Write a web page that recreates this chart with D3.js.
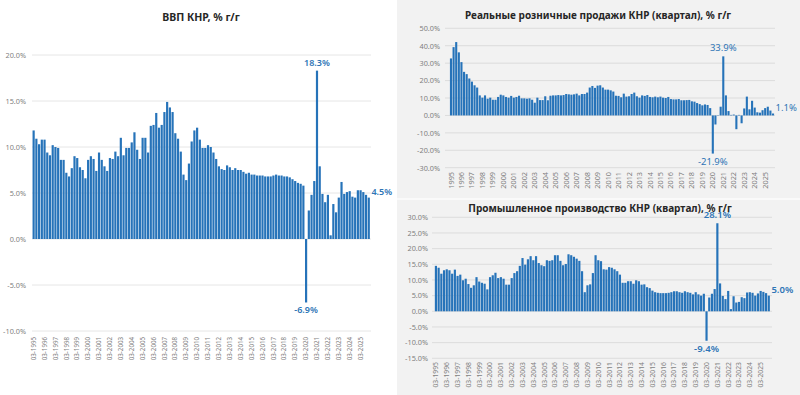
<!DOCTYPE html>
<html>
<head>
<meta charset="utf-8">
<script src="https://cdn.jsdelivr.net/npm/d3@7"></script>
<style>
  body { margin: 0; background: #fff; }
  svg { display: block; font-family: "Noto Sans", sans-serif; }
</style>
</head>
<body>
<script>
// Годы и кварталы
const years = [1995, 1996, 1997, 1998, 1999, 2000, 2001, 2002, 2003, 2004, 2005, 2006, 2007, 2008, 2009, 2010,
               2011, 2012, 2013, 2014, 2015, 2016, 2017, 2018, 2019, 2020, 2021, 2022, 2023, 2024, 2025];
const months = ["03", "06", "09", "12"];
const quarters = years.flatMap(y => months.map(m => `${m}-${y}`));

// Подписи осей
const gdpTickLabels = years.map(y => `03-${y}`);
const retailTickLabels = years.map(y => `${y}`);
const ipTickLabels = years.map(y => `03-${y}`);
const gdpYTicks = [-10, -5, 0, 5, 10, 15, 20];
const retailYTicks = [-30, -20, -10, 0, 10, 20, 30, 40, 50];
const ipYTicks = [-15, -10, -5, 0, 5, 10, 15, 20, 25, 30];

// ВВП КНР, % г/г
const gdpValues = [
  11.8, 10.9, 10.3, 10.8,  10.8, 9.4, 9.1, 10.2,  10.0, 9.9, 8.6, 8.6,  7.2, 6.8, 7.7, 9.0,
  8.8, 7.8, 7.5, 6.6,  8.6, 9.0, 8.7, 7.4,  9.4, 8.6, 7.9, 7.4,  8.8, 8.7, 9.5, 9.0,
  11.0, 9.1, 9.9, 9.9,  10.5, 11.6, 9.7, 8.7,  11.0, 11.0, 9.4, 12.3,  12.4, 13.7, 12.1, 12.4,
  13.8, 14.9, 14.3, 13.8,  11.5, 10.9, 9.5, 7.0,  6.4, 8.2, 10.6, 11.8,  12.1, 10.8, 9.9, 9.9,
  10.2, 10.0, 9.4, 8.7,  7.9, 7.6, 7.5, 8.0,  7.8, 7.5, 7.7, 7.5,  7.5, 7.3, 7.1, 7.2,
  7.0, 7.0, 6.9, 6.9,  6.9, 6.8, 6.8, 6.8,  6.9, 7.0, 6.9, 6.9,  6.8, 6.8, 6.7, 6.5,
  6.3, 6.1, 6.0, 5.8,  -6.9, 3.1, 4.8, 6.3,  18.3, 7.9, 4.9, 4.0,  4.8, 0.4, 3.8, 2.9,
  4.5, 6.2, 4.9, 5.1,  5.2, 4.6, 4.5, 5.3,  5.3, 5.1, 4.8, 4.5
];

// Реальные розничные продажи КНР (квартал), % г/г
const retailValues = [
  32.7, 39.2, 42.1, 36.2,  30.6, 25.0, 23.7, 21.2,  19.4, 17.3, 16.0, 11.5,  10.2, 11.5, 9.6, 10.2,
  9.0, 9.0, 10.6, 11.9,  11.5, 10.6, 10.2, 11.2,  10.2, 10.6, 11.3, 9.8,  9.8, 9.6, 9.8, 9.0,
  7.3, 10.2, 8.8, 8.8,  11.0, 8.7, 11.3, 11.5,  11.5, 11.7, 11.5, 11.7,  12.3, 12.1, 11.9, 12.1,
  12.5, 11.5, 12.3, 12.3,  13.1, 16.0, 16.9, 15.8,  17.1, 17.3, 16.0, 14.8,  14.8, 14.4, 13.7, 11.3,
  11.2, 10.4, 12.5, 10.8,  11.0, 12.3, 13.1, 11.0,  10.2, 11.5, 11.2, 11.7,  10.6, 10.4, 10.8, 10.4,
  10.8, 10.2, 10.0, 10.6,  9.4, 9.2, 9.2, 9.4,  8.7, 8.7, 8.8, 8.9,  8.1, 7.9, 7.1, 6.5,
  5.8, 6.3, 6.0, 4.2,  -21.9, -5.2, 0.2, 5.0,  33.9, 11.5, 2.5, 0.3,  0.5, -7.9, 0.3, -4.5,
  4.0, 10.8, 3.5, 8.4,  4.5, 1.8, 1.6, 3.0,  4.2, 5.0, 2.8, 1.1
];

// Промышленное производство КНР (квартал), % г/г
const ipValues = [
  14.5, 13.9, 12.0, 13.1,  13.4, 13.1, 12.0, 13.3,  11.3, 11.7, 9.9, 10.4,  8.7, 7.5, 8.3, 10.9,
  9.5, 9.1, 8.8, 7.0,  10.9, 11.5, 12.3, 10.6,  10.9, 10.4, 8.5, 8.5,  10.6, 12.2, 12.8, 14.5,
  17.0, 14.9, 16.6, 17.6,  16.3, 17.6, 15.4, 14.7,  14.4, 16.3, 16.1, 16.3,  17.9, 17.9, 16.1, 14.7,
  15.1, 18.2, 17.9, 17.4,  16.8, 16.1, 12.8, 6.1,  8.3, 8.6, 12.2, 17.9,  16.3, 16.0, 13.4, 13.3,
  14.1, 13.9, 13.4, 12.8,  11.7, 9.1, 9.1, 9.6,  9.6, 8.8, 9.9, 9.6,  8.5, 8.6, 7.7, 7.4,
  6.6, 6.1, 5.9, 5.8,  5.8, 5.8, 5.9, 6.1,  6.4, 6.4, 6.1, 5.9,  6.4, 6.1, 5.9, 5.4,
  6.1, 5.4, 5.0, 5.6,  -9.4, 4.4, 5.6, 7.1,  28.1, 8.9, 4.9, 3.9,  6.5, 0.7, 4.8, 2.8,
  3.0, 4.5, 4.2, 6.0,  6.1, 5.9, 5.0, 5.7,  6.5, 6.2, 5.8, 5.0
];

// Подписанные значения
const gdpMarked = ["03-2020", "03-2021", "12-2025"];
const retailMarked = ["03-2020", "03-2021", "12-2025"];
const ipMarked = ["03-2020", "03-2021", "12-2025"];

const width = 800;
const height = 395;
const blue = "#2673b9";
const labelBlue = "#2e75b6";
// обычный дефис вместо типографского минуса
const pct = d3.formatLocale({ decimal: ".", thousands: ",", grouping: [3], currency: ["", ""], minus: "-" })
              .format(".1f");

const svg = d3.select("body")
  .append("svg")
  .attr("width", width)
  .attr("height", height);

// Серый фон правой части
svg.append("rect")
  .attr("x", 397).attr("y", 0)
  .attr("width", width - 397).attr("height", height)
  .attr("fill", "#f2f2f2");
svg.append("line")
  .attr("x1", 397).attr("x2", width)
  .attr("y1", 199).attr("y2", 199)
  .attr("stroke", "#fafafa").attr("stroke-width", 2);

function drawChart(o) {
  const g = svg.append("g");

  const x = d3.scaleBand()
    .domain(quarters)
    .range(o.xRange)
    .padding(0.2);

  const y = d3.scaleLinear()
    .domain(o.yDomain)
    .range(o.yRange);

  // сетка
  g.append("g")
    .selectAll("line")
    .data(o.yTicks)
    .join("line")
    .attr("x1", o.gridX[0]).attr("x2", o.gridX[1])
    .attr("y1", d => y(d)).attr("y2", d => y(d))
    .attr("stroke", o.gridColor)
    .attr("stroke-width", 1);

  // ось Y
  const yAxis = g.append("g")
    .attr("transform", `translate(${o.yLabelX}, 0)`)
    .call(d3.axisLeft(y).tickValues(o.yTicks).tickSize(0).tickPadding(0)
      .tickFormat(d => pct(d) + "%"))
    .call(g => g.select(".domain").remove());
  yAxis.selectAll("text")
    .attr("fill", "#7f7f7f")
    .style("font-size", "7.3px")
    .style("font-family", "Noto Sans, sans-serif");

  // столбцы
  g.append("g")
    .selectAll("rect")
    .data(o.values)
    .join("rect")
    .attr("x", (d, i) => x(quarters[i]))
    .attr("width", x.bandwidth())
    .attr("y", d => y(Math.max(0, d)))
    .attr("height", d => Math.abs(y(d) - y(0)))
    .attr("fill", blue);

  // ось X
  const step = x.step();
  const xAxis = g.append("g")
    .attr("transform", `translate(0, ${o.xLabelY})`)
    .call(d3.axisBottom(x)
      .tickValues(quarters.filter(q => q.startsWith("03-")))
      .tickSize(0).tickPadding(0)
      .tickFormat((q, i) => o.tickLabels[i]))
    .call(g => g.select(".domain").remove());
  xAxis.selectAll("text")
    .attr("transform", "rotate(-90)")
    .attr("text-anchor", "end")
    .attr("x", 0)
    .attr("y", 0)
    .attr("dy", "0.35em")
    .attr("fill", "#7f7f7f")
    .style("font-size", o.tickSize)
    .style("font-family", "Noto Sans, sans-serif");

  // подписи значений
  const marks = o.marked.map(q => ({ q, v: o.values[quarters.indexOf(q)] }));
  const last = quarters[quarters.length - 1];
  g.append("g")
    .selectAll("text")
    .data(marks)
    .join("text")
    .attr("x", d => d.q === last ? x(d.q) + step + 1 : x(d.q) + x.bandwidth() / 2)
    .attr("y", d => d.q === last ? y(d.v) - 3
                   : d.v < 0 ? y(d.v) + 11 : y(d.v) - 5)
    .attr("text-anchor", d => d.q === last ? "start" : "middle")
    .attr("fill", labelBlue)
    .style("font-size", o.markSize)
    .style("font-weight", o.markWeight)
    .text(d => pct(d.v) + "%");

  // заголовок
  svg.append("text")
    .attr("x", o.titleX)
    .attr("y", o.titleY)
    .attr("text-anchor", "middle")
    .attr("fill", "#262626")
    .style("font-size", o.titleSize)
    .style("font-weight", "bold")
    .text(o.title);
}

drawChart({
  title: "ВВП КНР, % г/г",
  titleX: 201, titleY: 21, titleSize: "10.5px",
  values: gdpValues, marked: gdpMarked, tickLabels: gdpTickLabels,
  yTicks: gdpYTicks, yDomain: [-10, 20], yRange: [331, 55],
  xRange: [32, 370.4], gridX: [32, 371], gridColor: "#e6e6e6",
  yLabelX: 26, xLabelY: 337, tickSize: "6.2px",
  markSize: "9px", markWeight: 600
});

drawChart({
  title: "Реальные розничные продажи КНР (квартал), % г/г",
  titleX: 598, titleY: 19, titleSize: "10px",
  values: retailValues, marked: retailMarked, tickLabels: retailTickLabels,
  yTicks: retailYTicks, yDomain: [-30, 50], yRange: [167.7, 28.3],
  xRange: [449.4, 774.6], gridX: [445, 775], gridColor: "#dcdcdc",
  yLabelX: 440, xLabelY: 172, tickSize: "7.3px",
  markSize: "9.5px", markWeight: 400
});

drawChart({
  title: "Промышленное производство КНР (квартал), % г/г",
  titleX: 600, titleY: 212, titleSize: "10px",
  values: ipValues, marked: ipMarked, tickLabels: ipTickLabels,
  yTicks: ipYTicks, yDomain: [-15, 30], yRange: [358.3, 217.3],
  xRange: [434.3, 770.4], gridX: [432, 772], gridColor: "#dcdcdc",
  yLabelX: 428, xLabelY: 362, tickSize: "6.8px",
  markSize: "9.5px", markWeight: 600
});
</script>
</body>
</html>
